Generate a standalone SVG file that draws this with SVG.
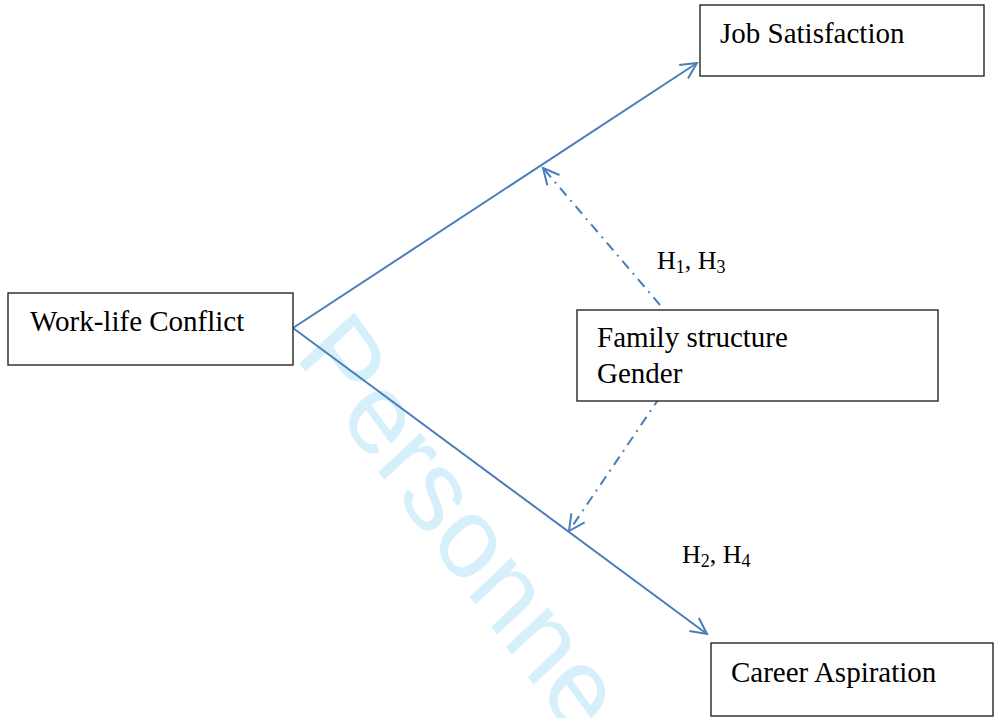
<svg xmlns="http://www.w3.org/2000/svg" width="994" height="718" viewBox="0 0 994 718">
<defs>
<style>
.box{fill:#fff;stroke:#262626;stroke-width:1.4}
.t{font-family:"Liberation Serif","Times New Roman",serif;font-size:29px;fill:#000}
.h{font-family:"Liberation Serif","Times New Roman",serif;font-size:26px;fill:#000}
.c{fill:none;stroke:#4a7ebb;stroke-width:2}
.d{stroke-dasharray:10 6 2 6}
.wm{font-family:"Liberation Sans",Arial,sans-serif;font-size:103px;fill:#d5effb}
</style>
<marker id="ah" viewBox="0 0 20 20" refX="18" refY="10" markerWidth="20" markerHeight="20" markerUnits="userSpaceOnUse" orient="auto">
<path d="M2,2 L18,10 L2,18" fill="none" stroke="#4a7ebb" stroke-width="2"/>
</marker>
</defs>
<rect width="994" height="718" fill="#fff"/>
<text class="wm" x="0" y="0" transform="translate(294 356) scale(1 1.13) rotate(50.5)">Personne</text>
<g id="connectors">
<line class="c" x1="293" y1="328" x2="697" y2="63" marker-end="url(#ah)"/>
<line class="c" x1="293" y1="328" x2="707" y2="634" marker-end="url(#ah)"/>
<line class="c d" x1="660" y1="305" x2="543" y2="168" marker-end="url(#ah)"/>
<line class="c d" x1="660" y1="397" x2="569" y2="531" marker-end="url(#ah)"/>
</g>
<g id="job-satisfaction">
<rect class="box" x="700" y="5" width="284" height="71"/>
<text class="t" x="720" y="43">Job Satisfaction</text>
</g>
<g id="work-life-conflict">
<rect class="box" x="8" y="293" width="285" height="72"/>
<text class="t" x="30" y="331">Work-life Conflict</text>
</g>
<g id="family-structure">
<rect class="box" x="577" y="310" width="361" height="91"/>
<text class="t" x="597" y="347">Family structure</text>
<text class="t" x="597" y="383">Gender</text>
</g>
<g id="career-aspiration">
<rect class="box" x="711" y="643" width="282" height="73"/>
<text class="t" x="731" y="682">Career Aspiration</text>
</g>
<g id="labels">
<text class="h" x="657" y="269">H<tspan font-size="18" dy="4">1</tspan><tspan dy="-4">, H</tspan><tspan font-size="18" dy="4">3</tspan></text>
<text class="h" x="682" y="563">H<tspan font-size="18" dy="4">2</tspan><tspan dy="-4">, H</tspan><tspan font-size="18" dy="4">4</tspan></text>
</g>
</svg>
